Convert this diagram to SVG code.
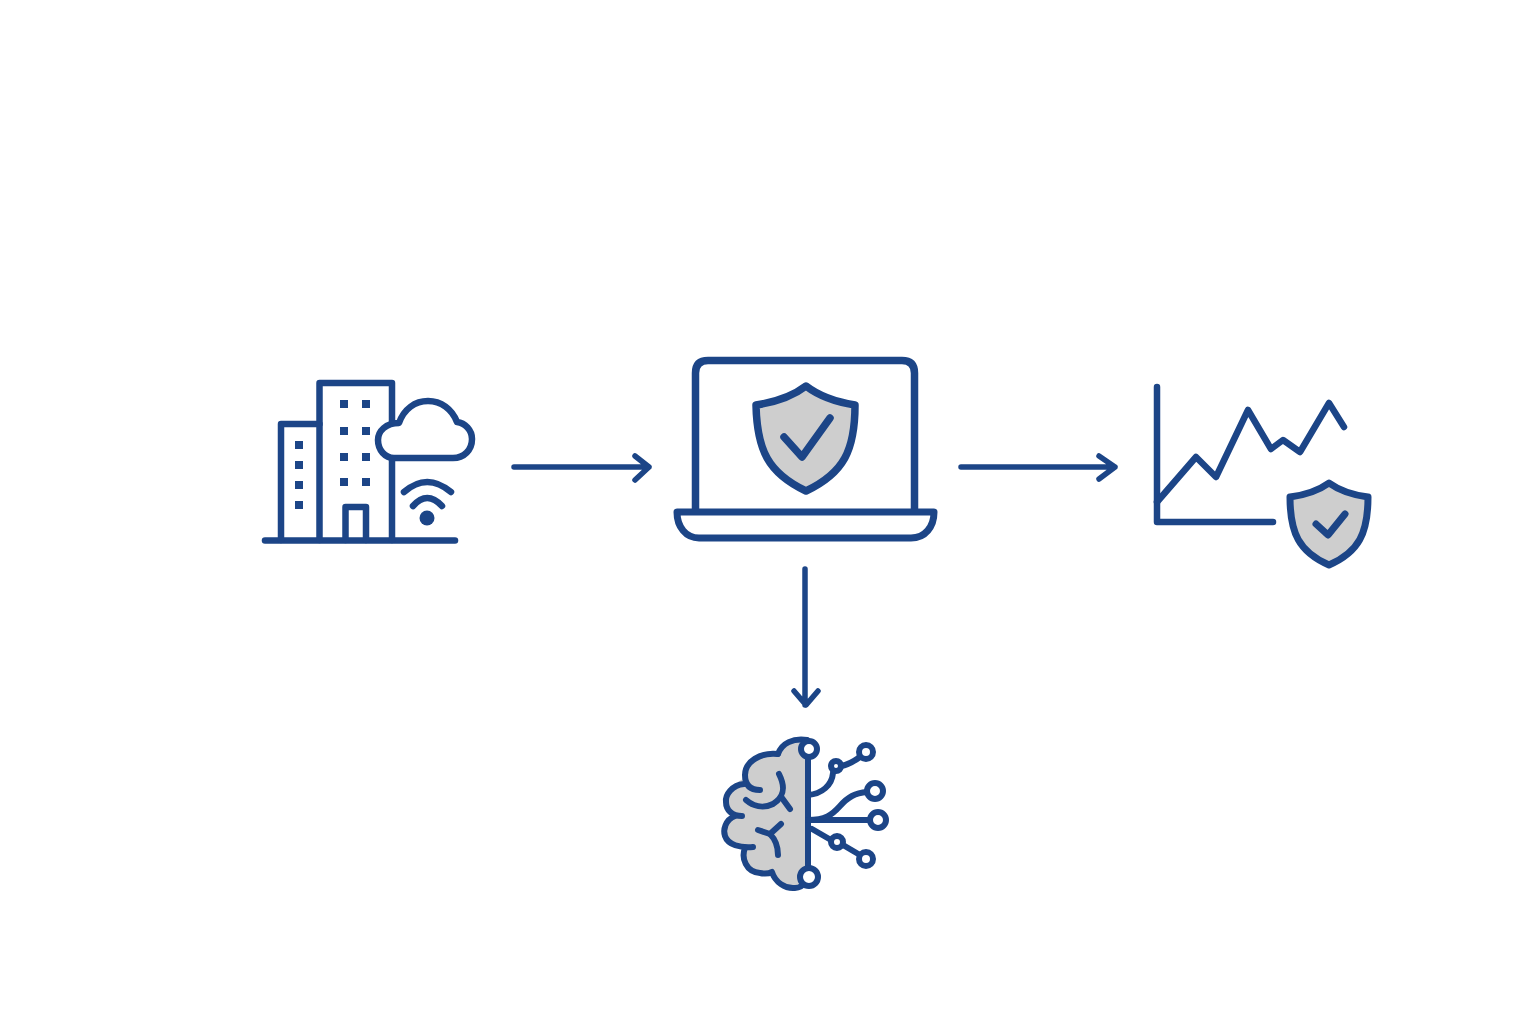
<svg xmlns="http://www.w3.org/2000/svg" width="1536" height="1024" viewBox="0 0 1536 1024">
<style>
.s{fill:none;stroke:#1c4587;stroke-width:6.500;stroke-linecap:round;stroke-linejoin:round}
.n{fill:#1c4587}
.c{fill:none;stroke:#1c4587;stroke-width:5.500;stroke-linecap:round;stroke-linejoin:round}
.f{fill:#cecece;stroke:none}
.o{fill:#fff;stroke:#1c4587;stroke-width:6;stroke-linejoin:round}
</style>
<rect width="1536" height="1024" fill="#fff"/>
<g id="connectors">
<path class="c" d="M514 467H649M635 456L649 467L635 480"/>
<path class="c" d="M961 467H1115M1099 456L1115 467L1099 479"/>
<path class="c" d="M805 569V705M794 691L806 705L818 691"/>
</g>
<g id="building">
<path class="s" d="M265 540.500H455"/>
<path class="s" d="M281 540V424H319.500"/>
<path class="s" d="M319.500 540V383H392V540"/>
<path class="s" d="M345.500 540V507H366V540"/>
<g class="n">
<rect x="340" y="400" width="8" height="8"/><rect x="362" y="400" width="8" height="8"/>
<rect x="340" y="427" width="8" height="8"/><rect x="362" y="427" width="8" height="8"/>
<rect x="340" y="453" width="8" height="8"/><rect x="362" y="453" width="8" height="8"/>
<rect x="340" y="478" width="8" height="8"/><rect x="362" y="478" width="8" height="8"/>
<rect x="295" y="441" width="8" height="8"/><rect x="295" y="461" width="8" height="8"/>
<rect x="295" y="481" width="8" height="8"/><rect x="295" y="501" width="8" height="8"/>
</g>
<path class="s" style="fill:#fff" d="M394 458H453C464 458 472 450 472 439C472 430 465 423 457 422C452 409 441 401 428 401C415 401 404 409 399 423C386 423 378 431 378 440C378 450 385 458 394 458Z"/>
<path class="s" d="M404 492Q427 472 451 492"/>
<path class="s" d="M413 506Q427 490 442 506"/>
<circle class="n" cx="427" cy="518" r="7.500"/>
</g>
<g id="laptop">
<path class="s" style="stroke-width:7.500" d="M695.500 512V373Q695.500 360.500 708 360.500H902Q914.500 360.500 914.500 373V512"/>
<path class="s" style="fill:#fff;stroke-width:7" d="M677 512H934C934 527 925 538 911 538H699C686 538 677 527 677 512Z"/>
<path class="s" style="fill:#cecece;stroke-width:7.500" d="M806 386C793 396 776 402 756 405C757 450 768 473 806 491C844 473 855 450 855 405C836 402 819 396 806 386Z"/>
<path class="s" style="stroke-width:7.500" d="M784 437L802 457L830 418"/>
</g>
<g id="chart">
<path class="s" d="M1157 387V522H1273"/>
<path class="s" d="M1157 502L1196 457L1216 477L1248 410L1271 449L1283 440L1300 452L1329 403L1344 427"/>
<path class="s" style="fill:#cecece;stroke-width:7" d="M1329 483C1318 491 1305 495 1290 497C1290 533 1299 552 1329 565C1359 552 1368 533 1368 497C1353 495 1340 491 1329 483Z"/>
<path class="s" style="stroke-width:7" d="M1316 524L1328 535L1345 514"/>
</g>
<g id="brain">
<path class="f" d="M808 740C793 738 782 743 778 754C760 752 745 762 745 778C730 785 725 795 726 802C726 810 730 814 735 816C725 820 723 830 725 836C728 844 736 847 745 848C741 858 746 872 760 873C765 874 770 873 772 872C775 882 785 889 795 888C800 888 804 885 808 880Z"/>
<g class="s" style="stroke-width:6">
<path d="M807 740C793 738 782 743 778 754"/>
<path d="M778 754C760 752 745 762 745 775C745 785 750 790 760 790"/>
<path d="M744 784C732 785 725 795 726 802C726 810 732 816 742 816"/>
<path d="M735 816C725 820 723 830 725 836C728 845 740 848 753 847"/>
<path d="M745 848C741 858 746 872 760 873C765 874 770 873 772 872C775 882 785 889 795 888C800 888 804 885 808 880"/>
<path d="M779 774C786 788 784 797 773 804C763 809 753 806 746 800"/>
<path d="M782 798L790 809"/>
<path d="M758 830L770 834L781 824"/>
<path d="M770 834C776 840 778 847 778 855"/>
<path d="M808 749V877"/>
<path d="M808 795C822 794 832 785 833 773"/>
<path d="M841 766C848 765 853 762 860 757"/>
<path d="M808 820H870"/>
<path d="M808 820C825 820 832 815 840 806C848 797 855 793 867 792"/>
<path d="M812 829L831 840"/>
<path d="M843 845L860 855"/>
</g>
<circle class="o" cx="809" cy="749" r="8"/>
<circle class="o" cx="809" cy="877" r="9"/>
<circle class="o" cx="866" cy="752" r="7"/>
<circle class="o" cx="875" cy="791" r="8"/>
<circle class="o" cx="878" cy="820" r="8"/>
<circle class="o" cx="866" cy="859" r="7"/>
<circle class="o" cx="836" cy="766" r="5"/>
<circle class="o" cx="837" cy="842" r="6"/>
</g>
</svg>
